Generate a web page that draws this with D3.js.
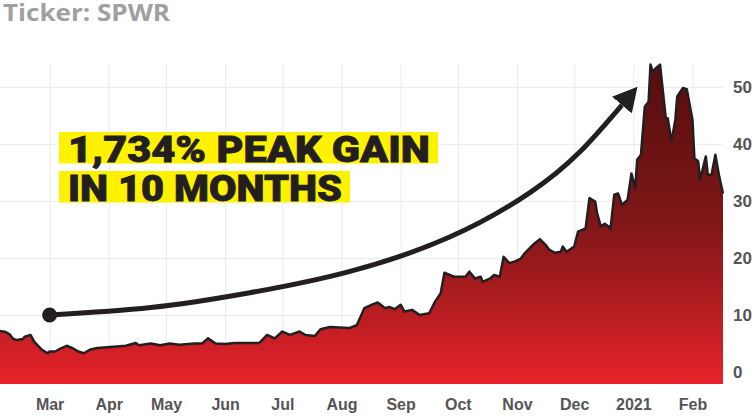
<!DOCTYPE html>
<html>
<head>
<meta charset="utf-8">
<script src="https://cdn.jsdelivr.net/npm/d3@7"></script>
<style>
  body { margin: 0; background: #fff; }
  svg { display: block; font-family: 'Open Sans', sans-serif; }
  .axisLabel text { fill: #555; font-size: 16px; font-weight: 700; }
  .axisLabel .domain { display: none; }
  .grid line { stroke: #ebebeb; stroke-width: 1; }
  .grid .domain { display: none; }
</style>
</head>
<body>
<svg id="chart" width="756" height="416"></svg>
<script>
const dates = [
  '2020-02-04', '2020-02-07', '2020-02-09', '2020-02-11', '2020-02-13', '2020-02-16', '2020-02-17', '2020-02-20',
  '2020-02-22', '2020-02-26', '2020-02-29', '2020-03-01', '2020-03-04', '2020-03-06', '2020-03-10', '2020-03-13',
  '2020-03-16', '2020-03-19', '2020-03-22', '2020-03-26', '2020-04-02', '2020-04-10', '2020-04-15', '2020-04-17',
  '2020-04-23', '2020-04-28', '2020-05-03', '2020-05-08', '2020-05-16', '2020-05-20', '2020-05-23', '2020-05-27',
  '2020-06-01', '2020-06-06', '2020-06-11', '2020-06-19', '2020-06-23', '2020-06-27', '2020-07-01', '2020-07-05',
  '2020-07-10', '2020-07-13', '2020-07-18', '2020-07-21', '2020-07-26', '2020-07-31', '2020-08-05', '2020-08-09',
  '2020-08-13', '2020-08-17', '2020-08-20', '2020-08-24', '2020-08-26', '2020-08-29', '2020-09-01', '2020-09-03',
  '2020-09-07', '2020-09-11', '2020-09-16', '2020-09-19', '2020-09-22', '2020-09-24', '2020-09-27', '2020-09-29',
  '2020-10-05', '2020-10-07', '2020-10-10', '2020-10-13', '2020-10-14', '2020-10-18', '2020-10-20', '2020-10-23',
  '2020-10-25', '2020-10-28', '2020-10-31', '2020-11-03', '2020-11-05', '2020-11-10', '2020-11-13', '2020-11-16',
  '2020-11-18', '2020-11-21', '2020-11-24', '2020-11-25', '2020-11-27', '2020-12-01', '2020-12-03', '2020-12-07',
  '2020-12-09', '2020-12-12', '2020-12-13', '2020-12-15', '2020-12-17', '2020-12-19', '2020-12-20', '2020-12-22',
  '2020-12-24', '2020-12-26', '2020-12-29', '2020-12-31', '2021-01-02', '2021-01-03', '2021-01-05', '2021-01-07',
  '2021-01-09', '2021-01-10', '2021-01-11', '2021-01-13', '2021-01-15', '2021-01-18', '2021-01-19', '2021-01-21',
  '2021-01-23', '2021-01-24', '2021-01-27', '2021-01-29', '2021-02-01', '2021-02-02', '2021-02-04', '2021-02-05',
  '2021-02-08', '2021-02-09', '2021-02-11', '2021-02-13', '2021-02-15', '2021-02-17'
]
const prices = [
  7.2, 7.0, 6.6, 5.8, 5.6, 5.8, 6.2, 6.5,
  5.3, 3.9, 3.3, 3.6, 3.6, 4.0, 4.6, 4.2,
  3.6, 3.3, 3.9, 4.2, 4.4, 4.6, 5.1, 4.7,
  5.0, 4.7, 5.0, 4.8, 5.0, 5.0, 5.9, 5.0,
  4.9, 5.1, 5.1, 5.1, 6.5, 5.9, 7.1, 6.5,
  7.1, 6.5, 6.3, 7.5, 7.9, 7.8, 7.7, 8.2,
  11.2, 11.8, 12.2, 11.2, 11.4, 11.0, 11.8, 10.6,
  10.9, 10.0, 10.3, 12.3, 13.8, 17.4, 17.0, 16.7,
  16.7, 17.6, 16.4, 16.7, 15.8, 16.4, 17.0, 16.7,
  20.2, 19.1, 19.4, 19.9, 20.8, 22.5, 23.3, 22.3,
  21.4, 20.9, 21.1, 22.0, 21.1, 22.0, 24.6, 25.2,
  30.5, 29.9, 27.8, 25.5, 26.0, 25.5, 25.0, 31.1,
  31.3, 29.3, 30.2, 34.8, 32.2, 37.2, 38.1, 46.5,
  47.4, 53.9, 52.7, 53.3, 53.9, 44.5, 44.5, 40.4,
  44.2, 48.3, 49.8, 49.6, 44.2, 37.5, 36.9, 33.7,
  37.8, 34.6, 34.6, 38.1, 34.3, 31.3
]
const xTickLabels = ['Mar', 'Apr', 'May', 'Jun', 'Jul', 'Aug', 'Sep', 'Oct', 'Nov', 'Dec', '2021', 'Feb']
const yTicks = [0, 10, 20, 30, 40, 50]
const yDomain = [-2.1, 54]

// annotation arrow, in chart units (date, price)
const arrowDates = ['2020-03-01', '2020-04-23', '2020-06-14', '2020-08-05', '2020-09-27', '2020-11-08', '2020-12-04', '2020-12-26']
const arrowValues = [10, 11.3, 13.9, 17.6, 23.7, 31.5, 38.6, 46.8]

const titleText = 'Ticker: SPWR'
const calloutLines = ['1,734% PEAK GAIN', 'IN 10 MONTHS']

const parseDate = d3.utcParse('%Y-%m-%d')

createChart()

function createChart () {
  const dim = setDimensions()
  const data = dates.map((d, i) => ({ date: parseDate(d), value: prices[i] }))
  const scales = setScales(data, dim)
  const svg = d3.select('#chart')
  const g = svg.append('g')
    .attr('transform', 'translate(' + dim.margin.left + ',' + dim.margin.top + ')')
  drawGridLines(g, dim, scales)
  drawArea(svg, g, data, dim, scales)
  drawAxes(g, dim, scales)
  drawArrow(svg, g, scales)
  drawCallout(svg)
  drawTitle(svg)
}

function setDimensions () {
  const margin = { top: 64, right: 33, bottom: 32, left: 0 }
  const width = 756 - margin.left - margin.right
  const height = 416 - margin.top - margin.bottom
  return { width, height, margin }
}

function setScales (data, dim) {
  const xScale = d3.scaleUtc()
    .domain(d3.extent(data, (d) => d.date))
    .range([0, dim.width])
  const yScale = d3.scaleLinear()
    .domain(yDomain)
    .range([dim.height, 0])
  const monthTicks = d3.utcMonth.range(d3.utcMonth.ceil(xScale.domain()[0]), xScale.domain()[1])
  return { xScale, yScale, monthTicks }
}

function drawGridLines (g, { width, height }, { xScale, yScale, monthTicks }) {
  g.append('g')
    .attr('class', 'grid')
    .call(d3.axisLeft(yScale)
      .tickValues(yTicks)
      .tickSize(-width)
      .tickFormat(''))
  g.append('g')
    .attr('class', 'grid')
    .attr('transform', 'translate(0,' + height + ')')
    .call(d3.axisBottom(xScale)
      .tickValues(monthTicks)
      .tickSize(-height)
      .tickFormat(''))
}

function drawArea (svg, g, data, { height }, { xScale, yScale }) {
  const grad = svg.append('defs').append('linearGradient')
    .attr('id', 'areaFill')
    .attr('gradientUnits', 'userSpaceOnUse')
    .attr('x1', 0).attr('x2', 0)
    .attr('y1', 0).attr('y2', height)
  grad.append('stop').attr('offset', '0%').attr('stop-color', '#540d0d')
  grad.append('stop').attr('offset', '50%').attr('stop-color', '#801718')
  grad.append('stop').attr('offset', '75%').attr('stop-color', '#b11d21')
  grad.append('stop').attr('offset', '100%').attr('stop-color', '#e8222a')

  const area = d3.area()
    .x((d) => xScale(d.date))
    .y0(height)
    .y1((d) => yScale(d.value))
  const line = d3.line()
    .x((d) => xScale(d.date))
    .y((d) => yScale(d.value))

  g.append('path')
    .datum(data)
    .attr('fill', 'url(#areaFill)')
    .attr('d', area)
  g.append('path')
    .datum(data)
    .attr('fill', 'none')
    .attr('stroke', '#231f20')
    .attr('stroke-width', 2.5)
    .attr('stroke-linejoin', 'round')
    .attr('d', line)
}

function drawAxes (g, { width, height }, { xScale, yScale, monthTicks }) {
  g.append('g')
    .attr('class', 'axisLabel bottomAxis')
    .attr('transform', 'translate(0,' + height + ')')
    .call(d3.axisBottom(xScale)
      .tickValues(monthTicks)
      .tickSize(0)
      .tickPadding(15)
      .tickFormat((d, i) => xTickLabels[i]))
  g.append('g')
    .attr('class', 'axisLabel rightAxis')
    .attr('transform', 'translate(' + width + ',0)')
    .call(d3.axisRight(yScale)
      .tickValues(yTicks)
      .tickSize(0)
      .tickPadding(10))
    .selectAll('text')
    .style('font-size', '17px')
}

function drawArrow (svg, g, { xScale, yScale }) {
  svg.select('defs').append('marker')
    .attr('id', 'arrowHead')
    .attr('viewBox', '0 -13 24 26')
    .attr('refX', 0)
    .attr('refY', 0)
    .attr('markerWidth', 24)
    .attr('markerHeight', 26)
    .attr('markerUnits', 'userSpaceOnUse')
    .attr('orient', 'auto')
    .append('path')
    .attr('d', 'M0,-13L24,0L0,13Z')
    .attr('fill', '#231f20')

  const pts = arrowDates.map((d, i) => [xScale(parseDate(d)), yScale(arrowValues[i])])
  g.append('path')
    .attr('d', d3.line().curve(d3.curveNatural)(pts))
    .attr('fill', 'none')
    .attr('stroke', '#231f20')
    .attr('stroke-width', 5)
    .attr('marker-end', 'url(#arrowHead)')
  g.append('circle')
    .attr('cx', pts[0][0])
    .attr('cy', pts[0][1])
    .attr('r', 7.5)
    .attr('fill', '#231f20')
}

function drawCallout (svg) {
  const box = svg.append('g').attr('class', 'callout')
  const lineTops = [132, 171]
  const textX = 68
  const widths = [362, 274]
  calloutLines.forEach((t, i) => {
    box.append('rect')
      .attr('x', textX - 9)
      .attr('y', lineTops[i])
      .attr('width', widths[i] + 17)
      .attr('height', 31.5)
      .attr('fill', '#fff200')
    box.append('text')
      .attr('x', textX)
      .attr('y', lineTops[i] + 29.5)
      .attr('textLength', widths[i])
      .attr('lengthAdjust', 'spacingAndGlyphs')
      .style('font-family', 'Roboto, sans-serif')
      .style('font-weight', 900)
      .style('font-size', '37px')
      .attr('fill', '#231f20')
      .attr('stroke', '#231f20')
      .attr('stroke-width', 0.8)
      .text(t)
  })
}

function drawTitle (svg) {
  svg.append('text')
    .attr('x', 3)
    .attr('y', 21)
    .attr('textLength', 167)
    .attr('lengthAdjust', 'spacingAndGlyphs')
    .style('font-size', '24px')
    .style('font-weight', 700)
    .attr('fill', '#a0a0a0')
    .text(titleText)
}
</script>
</body>
</html>
